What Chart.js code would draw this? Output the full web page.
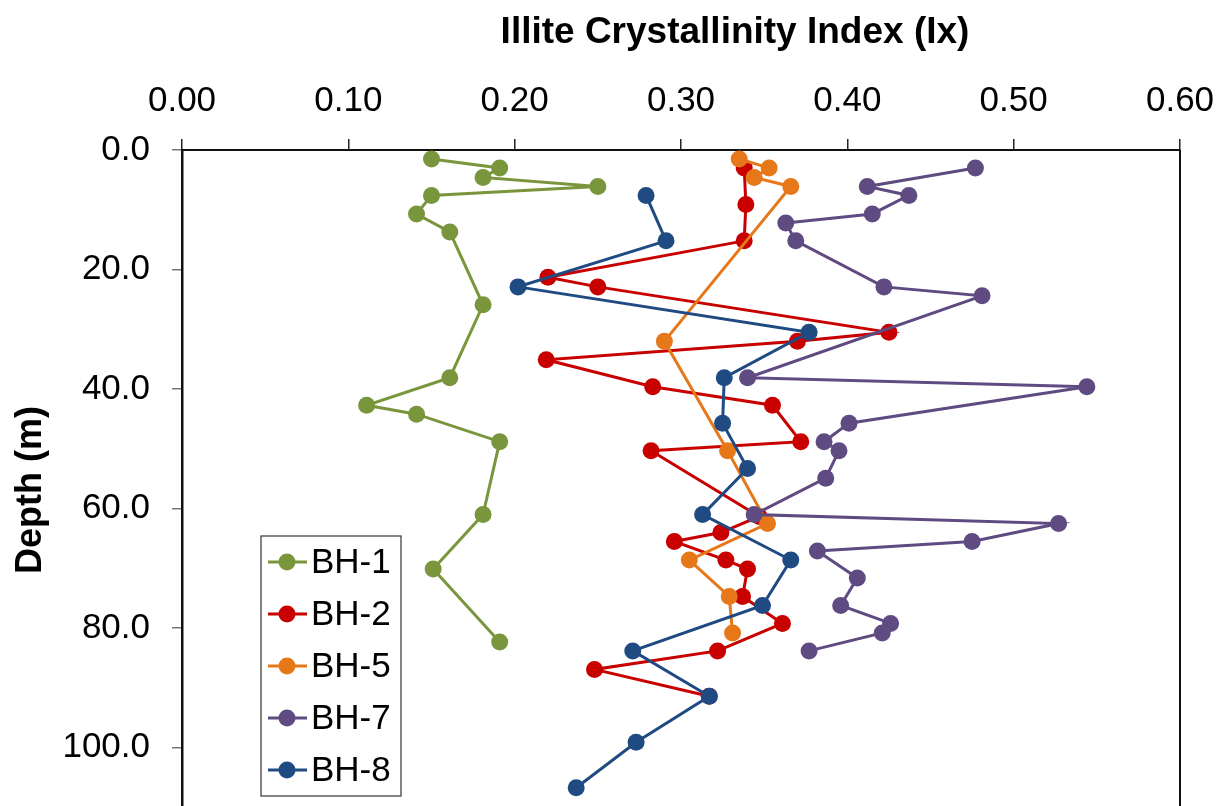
<!DOCTYPE html>
<html>
<head>
<meta charset="utf-8">
<script src="https://cdn.jsdelivr.net/npm/chart.js@4.4.1/dist/chart.umd.min.js"></script>
<style>
html,body{margin:0;padding:0;background:#fff;overflow:hidden;}
#wrap{width:1224px;height:806px;position:relative;overflow:hidden;}
canvas{display:block;}
</style>
</head>
<body>
<div id="wrap"><canvas id="c" width="1224" height="816"></canvas></div>
<script>
// ---- data ----
const seriesNames = ['BH-1', 'BH-2', 'BH-5', 'BH-7', 'BH-8'];
const seriesColors = ['#7A963C', '#C80000', '#E6781A', '#5F4B82', '#1F4B82'];

const bh1Depth = [1.5, 3.0, 4.6, 6.1, 7.6, 10.7, 13.7, 25.9, 38.1, 42.7, 44.2, 48.8, 61.0, 70.1, 82.3];
const bh1Ix    = [0.150, 0.191, 0.181, 0.250, 0.150, 0.141, 0.161, 0.181, 0.161, 0.111, 0.141, 0.191, 0.181, 0.151, 0.191];

const bh2Depth = [3.0, 9.1, 15.2, 21.3, 22.9, 30.5, 32.0, 35.1, 39.6, 42.7, 48.8, 50.3, 61.3, 64.0, 65.5, 68.6, 70.1, 74.7, 79.2, 83.8, 86.9, 91.4];
const bh2Ix    = [0.338, 0.339, 0.338, 0.220, 0.250, 0.425, 0.370, 0.219, 0.283, 0.355, 0.372, 0.282, 0.347, 0.324, 0.296, 0.327, 0.340, 0.337, 0.361, 0.322, 0.248, 0.317];

const bh5Depth = [1.5, 3.0, 4.6, 6.1, 32.0, 50.3, 62.5, 68.6, 74.7, 80.8];
const bh5Ix    = [0.335, 0.353, 0.344, 0.366, 0.290, 0.328, 0.352, 0.305, 0.329, 0.331];

const bh7Depth = [3.0, 6.1, 7.6, 10.7, 12.2, 15.2, 22.9, 24.4, 38.1, 39.6, 45.7, 48.8, 50.3, 54.9, 61.0, 62.5, 65.5, 67.1, 71.6, 76.2, 79.2, 80.8, 83.8];
const bh7Ix    = [0.477, 0.412, 0.437, 0.415, 0.363, 0.369, 0.422, 0.481, 0.340, 0.544, 0.401, 0.386, 0.395, 0.387, 0.344, 0.527, 0.475, 0.382, 0.406, 0.396, 0.426, 0.421, 0.377];

const bh8Depth = [7.6, 15.2, 22.9, 30.5, 38.1, 45.7, 53.3, 61.0, 68.6, 76.2, 83.8, 91.4, 99.1, 106.7];
const bh8Ix    = [0.279, 0.291, 0.202, 0.377, 0.326, 0.325, 0.340, 0.313, 0.366, 0.349, 0.271, 0.317, 0.273, 0.237];

const xTickValues = [0, 0.1, 0.2, 0.3, 0.4, 0.5, 0.6];
const xTickLabels = ['0.00', '0.10', '0.20', '0.30', '0.40', '0.50', '0.60'];
const yTickValues = [0, 20, 40, 60, 80, 100];
const yTickLabels = ['0.0', '20.0', '40.0', '60.0', '80.0', '100.0'];

const xTitle = 'Illite Crystallinity Index (Ix)';
const yTitle = 'Depth (m)';

// ---- build datasets ----
const depthSets = [bh1Depth, bh2Depth, bh5Depth, bh7Depth, bh8Depth];
const ixSets = [bh1Ix, bh2Ix, bh5Ix, bh7Ix, bh8Ix];

const FONT = "'Liberation Sans', Arial, Helvetica, sans-serif";
Chart.defaults.font.family = FONT;
Chart.defaults.color = '#000';

const datasets = seriesNames.map((name, i) => ({
  label: name,
  data: depthSets[i].map((d, k) => ({ x: ixSets[i][k], y: d })),
  showLine: true,
  borderColor: seriesColors[i],
  backgroundColor: seriesColors[i],
  pointBackgroundColor: seriesColors[i],
  pointBorderColor: seriesColors[i],
  pointBorderWidth: 0,
  pointRadius: 8.5,
  borderWidth: 3,
  order: seriesNames.length - i
}));

const labelsPlugin = {
  id: 'labelsPlugin',
  afterDraw(chart) {
    const ctx = chart.ctx;
    const a = chart.chartArea;
    ctx.save();
    // right frame line
    ctx.strokeStyle = '#111';
    ctx.lineWidth = 2;
    ctx.beginPath();
    ctx.moveTo(a.right, a.top);
    ctx.lineTo(a.right, a.bottom);
    ctx.stroke();

    // titles
    ctx.fillStyle = '#000';
    ctx.font = 'bold 37px ' + FONT;
    ctx.textAlign = 'center';
    ctx.textBaseline = 'middle';
    ctx.fillText(xTitle, (a.left + a.right) / 2 + 54, 33);

    ctx.save();
    ctx.translate(31, 490);
    ctx.rotate(-Math.PI / 2);
    ctx.font = 'bold 36px ' + FONT;
    ctx.fillText(yTitle, 0, 0);
    ctx.restore();

    // legend box
    const x0 = a.left + 79, y0 = 536, w = 140, h = 260;
    ctx.fillStyle = '#fff';
    ctx.fillRect(x0, y0, w, h);
    ctx.strokeStyle = '#333';
    ctx.lineWidth = 1.2;
    ctx.strokeRect(x0, y0, w, h);
    chart.data.datasets.forEach((ds, i) => {
      const cy = y0 + 26 + i * 52;
      ctx.strokeStyle = ds.borderColor;
      ctx.lineWidth = 3;
      ctx.beginPath();
      ctx.moveTo(x0 + 7, cy);
      ctx.lineTo(x0 + 46, cy);
      ctx.stroke();
      ctx.fillStyle = ds.borderColor;
      ctx.beginPath();
      ctx.arc(x0 + 26, cy, 8.5, 0, Math.PI * 2);
      ctx.fill();
      ctx.fillStyle = '#000';
      ctx.font = '35px ' + FONT;
      ctx.textAlign = 'left';
      ctx.textBaseline = 'middle';
      ctx.fillText(ds.label, x0 + 50, cy + 1);
    });
    ctx.restore();
  }
};

function zeroPad(s) { s.paddingTop = 0; s.paddingBottom = 0; s.paddingLeft = 0; s.paddingRight = 0; }

new Chart(document.getElementById('c'), {
  type: 'scatter',
  data: { datasets },
  options: {
    responsive: false,
    animation: false,
    devicePixelRatio: 1,
    layout: { padding: { left: 0, top: 0, right: 44, bottom: 0 } },
    plugins: { legend: { display: false }, tooltip: { enabled: false } },
    scales: {
      x: {
        type: 'linear',
        position: 'top',
        min: 0,
        max: 0.6,
        afterBuildTicks: (s) => { s.ticks = xTickValues.map(v => ({ value: v })); },
        afterFit: (s) => { s.height = 150; zeroPad(s); },
        ticks: {
          font: { size: 35 },
          color: '#000',
          padding: 17,
          maxRotation: 0,
          callback: (v) => { const k = xTickValues.findIndex(t => Math.abs(t - v) < 1e-9); return k >= 0 ? xTickLabels[k] : ''; }
        },
        grid: { drawOnChartArea: false, drawTicks: true, tickLength: 11, color: '#222', lineWidth: 1.5 },
        border: { display: true, color: '#111', width: 2 }
      },
      y: {
        type: 'linear',
        reverse: true,
        min: 0,
        max: 110,
        afterBuildTicks: (s) => { s.ticks = yTickValues.map(v => ({ value: v })); },
        afterFit: (s) => { s.width = 182; zeroPad(s); },
        ticks: {
          font: { size: 35 },
          color: '#000',
          padding: 22,
          callback: (v) => { const k = yTickValues.indexOf(v); return k >= 0 ? yTickLabels[k] : ''; }
        },
        grid: { drawOnChartArea: false, drawTicks: true, tickLength: 10, color: '#777', lineWidth: 1.5 },
        border: { display: true, color: '#111', width: 2.5 }
      }
    }
  },
  plugins: [labelsPlugin]
});
</script>
</body>
</html>
